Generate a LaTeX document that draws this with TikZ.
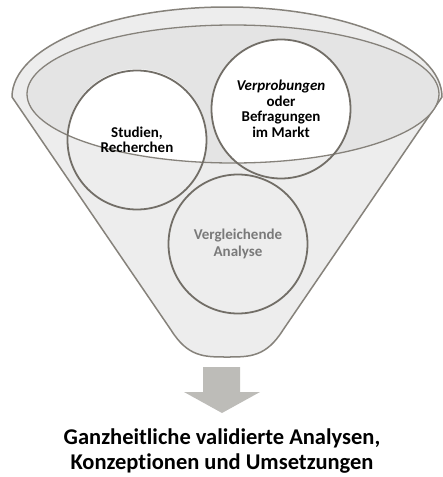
\documentclass[tikz,border=0pt]{standalone}
\usepackage{fontspec}
\setmainfont{Carlito}[Ligatures=NoCommon]
\usetikzlibrary{positioning}
\definecolor{funnelgray}{HTML}{EDEDED}
\definecolor{rimgray}{HTML}{E4E4E4}
\definecolor{edgegray}{HTML}{86827B}
\definecolor{ringgray}{HTML}{726E67}
\definecolor{arrowgray}{HTML}{BDBCB8}
\definecolor{textgray}{HTML}{7A7A7A}
\begin{document}
\begin{tikzpicture}[x=1pt,y=-1pt,
funnelbody/.style={draw=edgegray,fill=funnelgray,line width=1.5pt,line join=round},
rimline/.style={draw=edgegray,line width=1.3pt},
bubble/.style={circle,draw=ringgray,line width=1.8pt,minimum size=139pt,inner sep=0pt,align=center,font=\bfseries\fontsize{15}{15.5}\selectfont},
arrowblock/.style={fill=arrowgray,draw=none},
result/.style={align=center,inner sep=0pt,font=\bfseries\fontsize{22.5}{25}\selectfont}]

\useasboundingbox (0,0) rectangle (443,477);

% funnel
\draw[funnelbody] (12,97) arc[start angle=180,end angle=360,x radius=215,y radius=90]
  -- (283,330) .. controls (266,357) and (250,357) .. (227,357)
  .. controls (204,357) and (188,357) .. (171,330) -- cycle;
\fill[rimgray] (233,94) ellipse[x radius=206,y radius=69];

% white parts of the bubbles inside the rim
\begin{scope}
\clip (233,94) ellipse[x radius=206,y radius=69];
\fill[white] (137,139) circle[radius=70];
\fill[white] (281,109) circle[radius=70];
\end{scope}
\draw[rimline] (233,94) ellipse[x radius=206,y radius=69];

\node[bubble] (studien) at (137,140) {Studien,\\Recherchen};
\node[bubble] (markt) at (281,109) {\textit{Verprobungen}\\oder\\Befragungen\\im Markt};
\node[bubble,text=textgray,font=\bfseries\fontsize{15}{17}\selectfont] (analyse) at (238,244) {Vergleichende\\Analyse};

% arrow
\fill[arrowblock] (203,367) -- (240,367) -- (240,392) -- (260,392) -- (222,413)
  -- (184,392) -- (203,392) -- cycle;
\coordinate (tip) at (222,413);
\node[result,below=16pt of tip] (ergebnis) {Ganzheitliche validierte Analysen,\\Konzeptionen und Umsetzungen};

\end{tikzpicture}
\end{document}
